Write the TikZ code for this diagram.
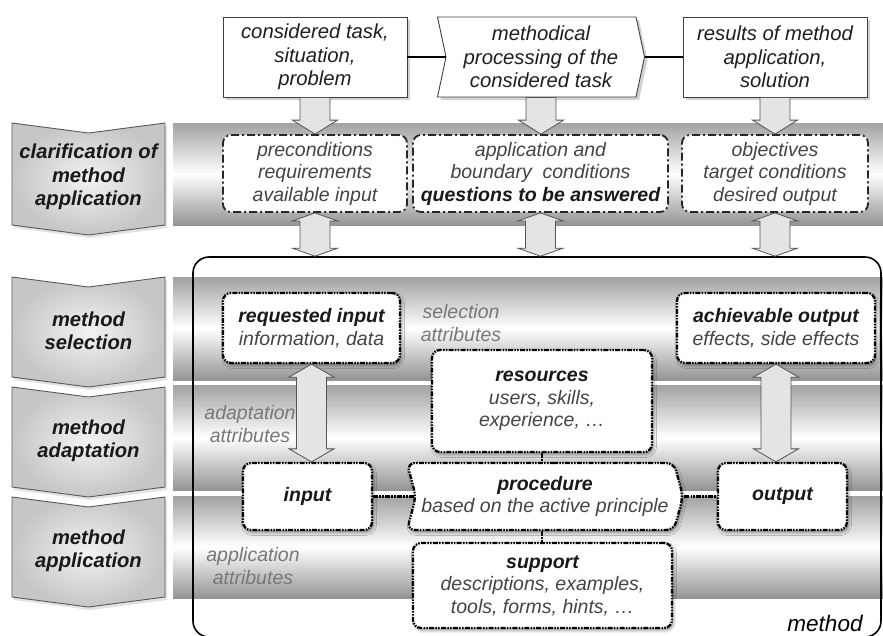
\documentclass[tikz,border=0pt]{standalone}
\usepackage{fontspec}
\setmainfont{Liberation Sans}
\usetikzlibrary{shapes.symbols,shadows,shadows.blur,calc}

\definecolor{bandtop}{HTML}{A2A2A2}
\definecolor{bandbot}{HTML}{949494}
\definecolor{arrowfill}{HTML}{E4E4E4}
\definecolor{arrowline}{HTML}{555555}
\definecolor{softtext}{HTML}{444444}
\definecolor{attrtext}{HTML}{787878}

\tikzset{
  txt/.style={font=\fontsize{19.5}{22.5}\selectfont\itshape, align=center, inner sep=0pt},
  topbox/.style={txt, font=\fontsize{20.3}{23.5}\selectfont\itshape, draw=black!75,
    line width=0.9pt, fill=white, minimum height=80pt, text=black!88,
    drop shadow={shadow xshift=3pt, shadow yshift=-3pt, fill=black!35}},
  ddbox/.style={txt, draw=black!85, line width=1.8pt,
    dash pattern=on 8pt off 3pt on 2pt off 3pt, rounded corners=8pt,
    fill=white, minimum height=77pt, text=softtext},
  dotbox/.style={txt, draw=black, line width=2.3pt,
    dash pattern=on 5pt off 1.3pt on 1.5pt off 1.3pt on 1.5pt off 1.3pt,
    rounded corners=8pt, fill=white, text=softtext,
    blur shadow={shadow xshift=1.5pt, shadow yshift=-2.5pt, shadow blur radius=3pt}},
  dotlink/.style={draw=black, line width=2.3pt,
    dash pattern=on 5pt off 1.3pt on 1.5pt off 1.3pt on 1.5pt off 1.3pt},
  link/.style={draw=black, line width=1.6pt},
  blockarrow/.style={draw=arrowline, line width=0.8pt, fill=arrowfill, line join=miter},
  band/.style={top color=bandtop, bottom color=bandbot, middle color=white},
  chevron/.style={draw=black!65, line width=0.9pt, inner color=gray!10, outer color=gray!45,
    drop shadow={shadow xshift=2pt, shadow yshift=-3pt, fill=black!22}},
  chevlabel/.style={font=\fontsize{20.2}{23.5}\selectfont\bfseries\itshape,
    align=center, inner sep=0pt, text=black!90},
  attr/.style={txt, text=attrtext},
}

% downward block arrow between two anchors (x taken from the first one)
\newcommand{\blockdown}[3]{%
  \path[blockarrow] let \p1=(#1), \p2=(#2) in
    (\x1-15pt,\y1) -- (\x1+15pt,\y1) -- (\x1+15pt,\y2+#3) -- (\x1+22.5pt,\y2+#3)
    -- (\x1,\y2) -- (\x1-22.5pt,\y2+#3) -- (\x1-15pt,\y2+#3) -- cycle;}
% two-headed vertical block arrow
\newcommand{\blockboth}[3]{%
  \path[blockarrow] let \p1=(#1), \p2=(#2) in
    (\x1,\y1) -- (\x1+22.5pt,\y1-#3) -- (\x1+15pt,\y1-#3) -- (\x1+15pt,\y2+#3)
    -- (\x1+22.5pt,\y2+#3) -- (\x1,\y2) -- (\x1-22.5pt,\y2+#3) -- (\x1-15pt,\y2+#3)
    -- (\x1-15pt,\y1-#3) -- (\x1-22.5pt,\y1-#3) -- cycle;}
% phase chevron on the left
\newcommand{\phasechevron}[2]{%
  \path[chevron] (12,#1) -- (88.5,#1+10) -- (165,#1) -- (165,#2)
    -- (88.5,#2+10) -- (12,#2) -- cycle;}

\begin{document}
\begin{tikzpicture}[x=1pt,y=-1pt]
\useasboundingbox (0,0) rectangle (883,635);

% horizontal phase bands
\shade[band] (173,123) rectangle (883,225);
\shade[band] (173,277) rectangle (883,380);
\shade[band] (173,385) rectangle (883,490);
\shade[band] (173,496) rectangle (883,598);

% phase chevrons
\phasechevron{123}{225}
\phasechevron{277}{377}
\phasechevron{387}{487}
\phasechevron{497}{597}
\node[chevlabel] (clar) at (88.5,177) {clarification of\\method\\application};
\node[chevlabel] (sel) at (88.5,331) {method\\selection};
\node[chevlabel] (adapt) at (88.5,441) {method\\adaptation};
\node[chevlabel] (appl) at (88.5,551) {method\\application};

% top row
\node[topbox, minimum width=184pt] (task) at (315,57) {considered task,\\situation,\\problem};
\node[topbox, shape=signal, signal from=west, signal to=east, signal pointer angle=156,
      minimum width=207pt] (proc) at (541,57) {methodical\\processing of the\\considered task};
\node[topbox, minimum width=184pt] (result) at (775,57) {results of method\\application,\\solution};
\draw[link] (task.east) -- (proc.west);
\draw[link] (proc.east) -- (result.west);

% clarification boxes
\node[ddbox, minimum width=184pt] (pre) at (315,173.5) {preconditions\\requirements\\available input};
\node[ddbox, minimum width=255pt] (cond) at (540.5,173.5)
  {application and\\boundary\ \ conditions\\{\bfseries\color{black!90}questions to be answered}};
\node[ddbox, minimum width=186pt] (goal) at (775,173.5) {objectives\\target conditions\\desired output};

% method frame
\node[draw=black, line width=1.6pt, rounded corners=16pt, inner sep=0pt,
      minimum width=688pt, minimum height=380pt] (method) at (537,447) {};
\node[font=\fontsize{22.5}{26}\selectfont\itshape, anchor=base, inner sep=0pt] (methodname)
  at (825,631) {method};

% block arrows
\blockdown{task.south}{pre.north}{14pt}
\blockdown{proc.south}{cond.north}{14pt}
\blockdown{result.south}{goal.north}{14pt}
\blockboth{pre.south}{pre.south |- method.north}{8pt}
\blockboth{cond.south}{cond.south |- method.north}{8pt}
\blockboth{goal.south}{goal.south |- method.north}{8pt}

% method elements
\node[dotbox, minimum width=177pt, minimum height=70pt] (reqin) at (311.5,328)
  {{\bfseries\color{black!90}requested input}\\information, data};
\node[dotbox, minimum width=198pt, minimum height=70pt] (achout) at (776,328)
  {{\bfseries\color{black!90}achievable output}\\effects, side effects};
\node[dotbox, minimum width=220pt, minimum height=102pt] (resrc) at (542,401)
  {{\bfseries\color{black!90}resources}\\users, skills,\\experience, \ldots};
\node[dotbox, minimum width=129pt, minimum height=67pt] (inp) at (307.5,496.5)
  {{\bfseries\color{black!90}input}};
\node[dotbox, shape=signal, signal from=west, signal to=east, signal pointer angle=150,
      minimum width=276pt, minimum height=67pt] (procd) at (545,496.5)
  {{\bfseries\color{black!90}procedure}\\based on the active principle};
\node[dotbox, minimum width=129pt, minimum height=67pt] (outp) at (782.5,496.5)
  {{\bfseries\color{black!90}output}};
\node[dotbox, minimum width=259pt, minimum height=85pt] (supp) at (542.5,585.5)
  {{\bfseries\color{black!90}support}\\descriptions, examples,\\tools, forms, hints, \ldots};

\blockboth{reqin.south}{reqin.south |- inp.north}{13pt}
\blockboth{achout.south}{achout.south |- outp.north}{13pt}

\draw[dotlink] (inp.east) -- (procd.west);
\draw[dotlink] (procd.east) -- (outp.west);
\draw[dotlink] (resrc.south) -- (resrc.south |- procd.north);
\draw[dotlink] (resrc.south |- procd.south) -- (resrc.south |- supp.north);

% attribute labels
\node[attr] (selattr) at (461,323) {selection\\attributes};
\node[attr] (adattr) at (250,424) {adaptation\\attributes};
\node[attr] (apattr) at (253,566) {application\\attributes};
\end{tikzpicture}
\end{document}
